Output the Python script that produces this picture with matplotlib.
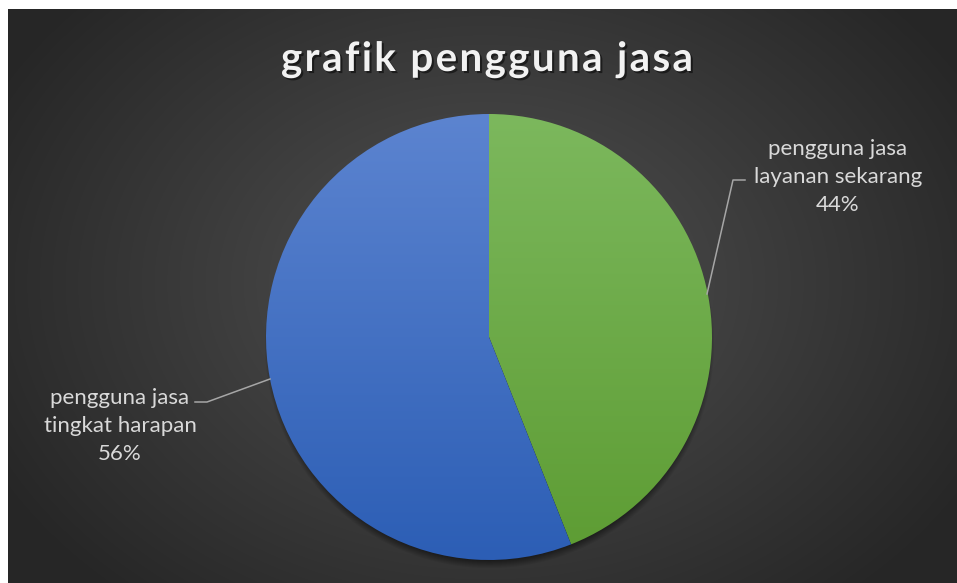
import numpy as np
import matplotlib.pyplot as plt
import matplotlib.patheffects as pe
from matplotlib.colors import to_rgb

title = 'grafik pengguna jasa'
labels = ['pengguna jasa\nlayanan sekarang', 'pengguna jasa\ntingkat harapan']
values = [44, 56]
top_colors = ['#7cb85d', '#5c84d0']
bottom_colors = ['#5d9c33', '#2c5eb5']

W, H = 957, 583
fig = plt.figure(figsize=(W / 100, H / 100), dpi=100)
fig.patch.set_facecolor('white')
ax = fig.add_axes([0, 0, 1, 1])


def reset_limits():
    ax.set_xlim(0, W)
    ax.set_ylim(0, H)
    ax.set_aspect('auto')
    ax.axis('off')


# dark radial background
yy, xx = np.mgrid[0:H - 9, 8:W]
yy = (H - 9) - yy  # top row = top of frame
d = np.hypot((xx - 485) / 560.0, (yy - 300) / 420.0)
d = np.clip(d, 0, 1)
c0, c1 = np.array(to_rgb('#525252')), np.array(to_rgb('#262626'))
bg = c0[None, None, :] * (1 - d[..., None]) + c1[None, None, :] * d[..., None]
ax.imshow(bg, extent=(8, W, 0, H - 9), origin='upper', zorder=0, interpolation='bilinear')

# pie
cx, cy, R = 489, H - 337, 223
wedges, _ = ax.pie(values, center=(cx, cy), radius=R, startangle=90,
                   counterclock=False, wedgeprops=dict(linewidth=0))

# soft shadow under the pie (mostly visible at the bottom)
sy, sx = np.mgrid[cy - R - 25:cy + R + 25, cx - R - 25:cx + R + 25]
dist = np.hypot(sx - cx, sy - (cy - 7))
alpha = 0.7 * np.clip((R + 2 - dist) / 12.0, 0, 1)
shadow = np.zeros(dist.shape + (4,))
shadow[..., 3] = alpha
ax.imshow(shadow, extent=(cx - R - 25, cx + R + 25, cy - R - 25, cy + R + 25),
          origin='lower', zorder=1, interpolation='bilinear')

t = np.linspace(1, 0, 256)[:, None]
for w, top, bot in zip(wedges, top_colors, bottom_colors):
    w.set_facecolor('none')
    w.set_zorder(3)
    a, b = np.array(to_rgb(top)), np.array(to_rgb(bot))
    grad = a[None, None, :] * t[..., None] + b[None, None, :] * (1 - t[..., None])
    grad = np.repeat(grad, 2, axis=1)
    im = ax.imshow(grad, extent=(cx - R, cx + R, cy - R, cy + R), origin='upper',
                   zorder=2, interpolation='bilinear', aspect='auto')
    im.set_clip_path(w)

reset_limits()

# data labels with leader lines
lab_font = dict(family='Lato', fontsize=16, color='#d9d9d9', ha='center',
                va='center', linespacing=1.5, zorder=5)
ax.text(838, H - 177, '%s\n%d%%' % (labels[0], values[0]), **lab_font)
ax.plot([745, 733, 707], [H - 180, H - 180, H - 294], color='#a6a6a6', lw=1.1, zorder=4)
ax.text(120, H - 426, '%s\n%d%%' % (labels[1], values[1]), **lab_font)
ax.plot([195, 207, 270], [H - 402, H - 402, H - 379], color='#a6a6a6', lw=1.1, zorder=4)

# title with letter spacing
title_kw = dict(family='Lato', fontsize=29, fontweight='bold', color='#f2f2f2',
                va='baseline', zorder=6)
renderer = fig.canvas.get_renderer()


def text_width(s):
    tt = ax.text(0, 0, s, **title_kw)
    wdt = tt.get_window_extent(renderer).width
    tt.remove()
    return wdt


target_w = 412
base_w = text_width(title)
spacing = max(0.0, (target_w - base_w) / (len(title) - 1))
x0 = 487 - (base_w + spacing * (len(title) - 1)) / 2
ref = text_width('x')
for i, ch in enumerate(title):
    if ch == ' ':
        continue
    left = text_width(title[:i] + 'x') - ref if i > 0 else 0
    ax.text(x0 + left + spacing * i, H - 71, ch,
            path_effects=[pe.withSimplePatchShadow(offset=(1.5, -1.5), shadow_rgbFace='black', alpha=0.5)],
            **title_kw)

reset_limits()
fig.savefig('out.png', dpi=100, facecolor='white')
